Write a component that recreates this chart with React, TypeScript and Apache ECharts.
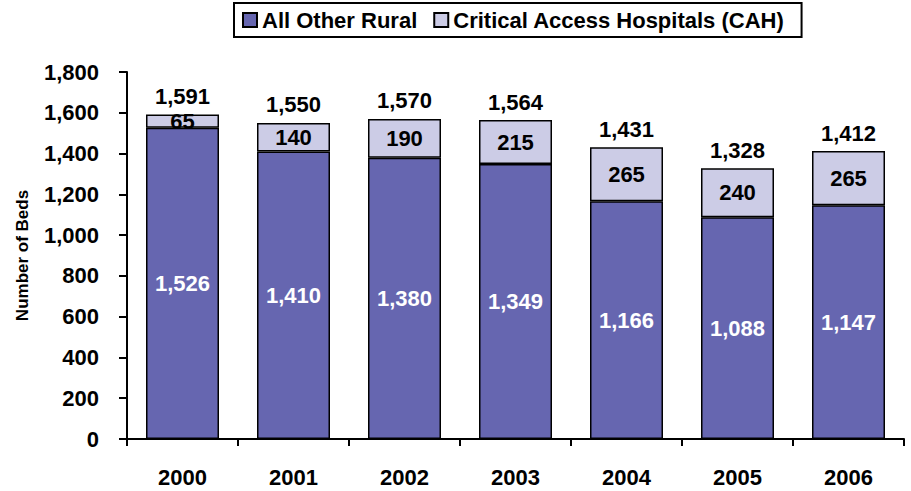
import React, { useEffect, useRef } from "react";
import * as echarts from "echarts";

const years = ["2000", "2001", "2002", "2003", "2004", "2005", "2006"];
const otherRural = [1526, 1410, 1380, 1349, 1166, 1088, 1147];
const cah = [65, 140, 190, 215, 265, 240, 265];
const totals = [1591, 1550, 1570, 1564, 1431, 1328, 1412];

const FONT = "'Liberation Sans', Arial, sans-serif";
const FS = 22;
const fmt = (v: number) => v.toLocaleString("en-US");

export default function App() {
  const ref = useRef<HTMLDivElement>(null);
  useEffect(() => {
    const chart = echarts.init(ref.current!, null, { renderer: "svg" });
    chart.setOption({
      animation: false,
      textStyle: { fontFamily: FONT },
      legend: {
        left: 234,
        top: 3,
        padding: [6, 17, 6, 8],
        borderColor: "#000",
        borderWidth: 2,
        icon: "rect",
        itemWidth: 14,
        itemHeight: 14,
        itemGap: 16,
        textStyle: { fontFamily: FONT, fontSize: 22, fontWeight: "bold", color: "#000" },
        data: [
          { name: "All Other Rural", itemStyle: { borderWidth: 2, borderColor: "#000" } },
          { name: "Critical Access Hospitals (CAH)", itemStyle: { borderWidth: 2, borderColor: "#000" } },
        ],
      },
      grid: { left: 127, right: 7, top: 72, bottom: 52 },
      xAxis: {
        type: "category",
        data: years,
        axisLine: { lineStyle: { color: "#000", width: 2 } },
        axisTick: { show: true, length: 7, lineStyle: { color: "#000", width: 2 } },
        axisLabel: { fontFamily: FONT, fontSize: FS, fontWeight: "bold", color: "#000", margin: 27 },
      },
      yAxis: {
        type: "value",
        min: 0,
        max: 1800,
        interval: 200,
        name: "Number of Beds",
        nameLocation: "middle",
        nameGap: 96,
        nameTextStyle: { fontFamily: FONT, fontSize: 17, fontWeight: "bold", color: "#000" },
        axisLine: { show: true, lineStyle: { color: "#000", width: 2 } },
        axisTick: { show: true, length: 8, lineStyle: { color: "#000", width: 2 } },
        splitLine: { show: false },
        axisLabel: {
          fontFamily: FONT,
          fontSize: FS,
          fontWeight: "bold",
          color: "#000",
          margin: 28,
          formatter: (v: number) => fmt(v),
        },
      },
      series: [
        {
          name: "All Other Rural",
          type: "bar",
          stack: "beds",
          data: otherRural,
          barWidth: 73,
          itemStyle: { color: "#6666B0", borderColor: "#000", borderWidth: 1.5 },
          label: {
            show: true,
            position: "inside",
            color: "#fff",
            fontFamily: FONT,
            fontSize: FS,
            fontWeight: "bold",
            formatter: (p: any) => fmt(p.value),
          },
        },
        {
          name: "Critical Access Hospitals (CAH)",
          type: "bar",
          stack: "beds",
          data: cah,
          barWidth: 73,
          itemStyle: { color: "#CCCCE6", borderColor: "#000", borderWidth: 1.5 },
          label: {
            show: true,
            position: "inside",
            color: "#000",
            fontFamily: FONT,
            fontSize: FS,
            fontWeight: "bold",
            formatter: (p: any) => fmt(p.value),
          },
        },
        {
          name: "Total",
          type: "scatter",
          data: totals,
          symbolSize: 0,
          itemStyle: { color: "#000", opacity: 1 },
          label: {
            show: true,
            position: "top",
            distance: 7,
            color: "#000",
            fontFamily: FONT,
            fontSize: FS,
            fontWeight: "bold",
            formatter: (p: any) => fmt(p.value),
          },
          silent: true,
        },
      ],
    });
    return () => chart.dispose();
  }, []);
  return <div ref={ref} style={{ width: 911, height: 491, position: "absolute", left: 0, top: 0 }} />;
}
